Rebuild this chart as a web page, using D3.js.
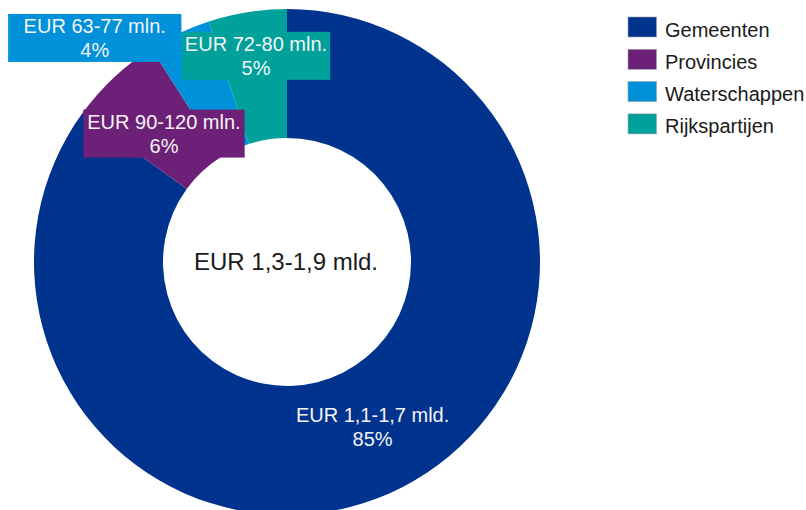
<!DOCTYPE html>
<html>
<head>
<meta charset="utf-8">
<script src="https://cdn.jsdelivr.net/npm/d3@7/dist/d3.min.js"></script>
<style>
  html, body { margin: 0; padding: 0; background: #fff; }
  svg { display: block; font-family: "Liberation Sans", Arial, sans-serif; }
</style>
</head>
<body>
<svg id="chart" width="806" height="510"></svg>
<script>
// ---- data ----
const categories = ["Gemeenten", "Provincies", "Waterschappen", "Rijkspartijen"];
const shares = [85, 6, 4, 5];
const amounts = ["EUR 1,1-1,7 mld.", "EUR 90-120 mln.", "EUR 63-77 mln.", "EUR 72-80 mln."];
const totalLabel = "EUR 1,3-1,9 mld.";

// ---- styling / layout ----
const colors = ["#00338d", "#6d2077", "#0091da", "#00a19b"];
const labelNudge = [[0, -3], [6, 9], [-112, -53.5], [-1.5, -20]];
const labelPad = [4, 4, 15.5, 3];

const svg = d3.select("#chart");
const cx = 287, cy = 262, outerR = 253, innerR = 124;

const pie = d3.pie().sort(null).value(d => d.value);
const data = categories.map((c, i) => ({ name: c, value: shares[i], amount: amounts[i], i }));
const arcs = pie(data);

const arc = d3.arc().innerRadius(innerR).outerRadius(outerR);
const labelArc = d3.arc().innerRadius((innerR + outerR) / 2).outerRadius((innerR + outerR) / 2);

const g = svg.append("g").attr("transform", `translate(${cx},${cy})`);

g.selectAll("path.slice")
  .data(arcs)
  .join("path")
  .attr("class", "slice")
  .attr("d", arc)
  .attr("fill", d => colors[d.data.i]);

// labels
const lab = g.selectAll("g.lab")
  .data(arcs)
  .join("g")
  .attr("class", "lab")
  .attr("transform", d => {
    const c = labelArc.centroid(d);
    const n = labelNudge[d.data.i];
    return `translate(${c[0] + n[0]},${c[1] + n[1]})`;
  });

lab.each(function(d) {
  const sel = d3.select(this);
  const rect = sel.append("rect").attr("fill", colors[d.data.i]);
  const t1 = sel.append("text")
    .attr("text-anchor", "middle")
    .attr("y", -5)
    .attr("font-size", 20)
    .attr("fill", "#f4f4f4")
    .text(d.data.amount);
  sel.append("text")
    .attr("text-anchor", "middle")
    .attr("y", 19)
    .attr("font-size", 20)
    .attr("fill", "#f4f4f4")
    .text(d.data.value + "%");
  const w = t1.node().getComputedTextLength() + 2 * labelPad[d.data.i];
  rect.attr("x", -w / 2).attr("y", -24).attr("width", w).attr("height", 48);
});

// center text
g.append("text")
  .attr("text-anchor", "middle")
  .attr("x", -1)
  .attr("y", 8)
  .attr("font-size", 24)
  .attr("fill", "#1a1a1a")
  .text(totalLabel);

// legend
const legend = svg.append("g").attr("transform", "translate(628,17)");
const li = legend.selectAll("g")
  .data(categories)
  .join("g")
  .attr("transform", (d, i) => `translate(0,${i * 32.3})`);
li.append("rect")
  .attr("width", 28.5)
  .attr("height", 20)
  .attr("fill", (d, i) => colors[i])
  .attr("stroke", "#9aa0b0")
  .attr("stroke-width", 0.6);
li.append("text")
  .attr("x", 37)
  .attr("y", 19.5)
  .attr("font-size", 20)
  .attr("fill", "#1a1a1a")
  .text(d => d);
</script>
</body>
</html>
